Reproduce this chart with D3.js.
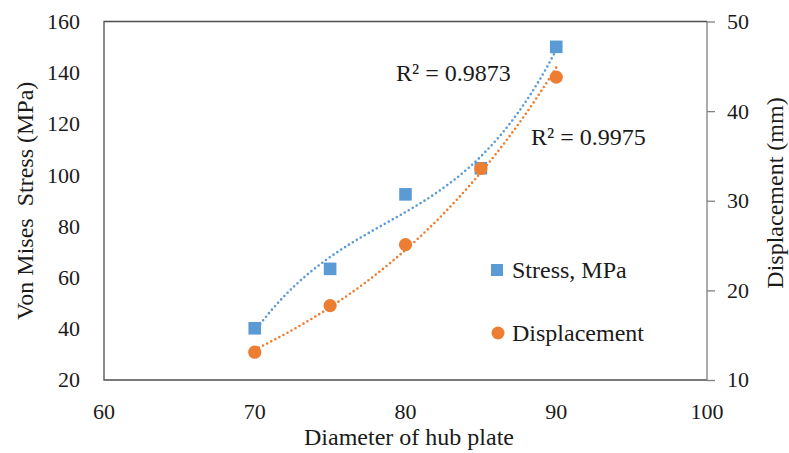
<!DOCTYPE html>
<html>
<head>
<meta charset="utf-8">
<script src="https://cdn.jsdelivr.net/npm/d3@7"></script>
<style>
  body { margin: 0; background: #fff; overflow: hidden; }
  svg { display: block; }
</style>
</head>
<body>
<div id="chart"></div>
<script>
// data
const diameters = [70, 75, 80, 85, 90];
const stress = [40.2, 63.4, 92.5, 102.7, 150.1];        // MPa, left axis
const displacement = [13.1, 18.3, 25.1, 33.6, 43.8];    // mm, right axis
const xTicks = [60, 70, 80, 90, 100];
const leftTicks = [20, 40, 60, 80, 100, 120, 140, 160];
const rightTicks = [10, 20, 30, 40, 50];
const seriesNames = ["Stress, MPa", "Displacement"];
const r2Labels = ["R\u00b2 = 0.9873", "R\u00b2 = 0.9975"];

const width = 789, height = 453;
const margin = {top: 21.5, bottom: 73, left: 104, right: 82};
const innerWidth = width - margin.left - margin.right;
const innerHeight = height - margin.top - margin.bottom;

const blue = "#5b9bd5", orange = "#ed7d31";
const serif = "Liberation Serif, Times New Roman, serif";

const svg = d3.select("#chart").append("svg")
    .attr("width", width)
    .attr("height", height)
    .attr("font-family", serif);

const g = svg.append("g")
    .attr("transform", `translate(${margin.left}, ${margin.top})`);

const xScale = d3.scaleLinear().domain([60, 100]).range([0, innerWidth]);
const yLeft = d3.scaleLinear().domain([20, 160]).range([innerHeight, 0]);
const yRight = d3.scaleLinear().domain([10, 50]).range([innerHeight, 0]);

// plot box (left, top, bottom)
g.append("path")
    .attr("d", `M${innerWidth},0H0V${innerHeight}H${innerWidth}`)
    .attr("fill", "none")
    .attr("stroke", "#4d4d4d")
    .attr("stroke-width", 1.3);

// right axis line and outward ticks
const rightAxis = g.append("g")
    .attr("transform", `translate(${innerWidth}, 0)`)
    .call(d3.axisRight(yRight).tickValues(rightTicks).tickSize(8).tickFormat(""));
rightAxis.select(".domain").attr("stroke", "#7f7f7f").attr("stroke-width", 1.3)
    .attr("d", `M0,0V${innerHeight}`);
rightAxis.selectAll(".tick line").attr("stroke", "#7f7f7f").attr("stroke-width", 1.3);
rightAxis.selectAll(".tick text").remove();

// tick labels
g.selectAll(".left-label")
    .data(leftTicks)
    .join("text")
    .attr("class", "left-label")
    .attr("x", -24)
    .attr("y", d => yLeft(d))
    .attr("dy", "0.34em")
    .attr("text-anchor", "end")
    .attr("font-size", 22)
    .attr("fill", "#1a1a1a")
    .text(d => d);

g.selectAll(".right-label")
    .data(rightTicks)
    .join("text")
    .attr("class", "right-label")
    .attr("x", innerWidth + 20)
    .attr("y", d => yRight(d))
    .attr("dy", "0.34em")
    .attr("text-anchor", "start")
    .attr("font-size", 22)
    .attr("fill", "#1a1a1a")
    .text(d => d);

g.selectAll(".bottom-label")
    .data(xTicks)
    .join("text")
    .attr("class", "bottom-label")
    .attr("x", d => xScale(d))
    .attr("y", innerHeight + 32)
    .attr("dy", "0.34em")
    .attr("text-anchor", "middle")
    .attr("font-size", 22)
    .attr("fill", "#1a1a1a")
    .text(d => d);

// least squares polynomial fit, x centred on the mean
const polyFit = (xs, ys, order) => {
    const xm = d3.mean(xs);
    const n = order + 1;
    const A = [];
    for (let i = 0; i < n; i++) {
        A.push([]);
        for (let j = 0; j < n; j++) A[i].push(d3.sum(xs, x => Math.pow(x - xm, i + j)));
        A[i].push(d3.sum(xs, (x, k) => ys[k] * Math.pow(x - xm, i)));
    }
    for (let c = 0; c < n; c++) {
        let p = c;
        for (let r = c + 1; r < n; r++) if (Math.abs(A[r][c]) > Math.abs(A[p][c])) p = r;
        [A[c], A[p]] = [A[p], A[c]];
        for (let r = 0; r < n; r++) {
            if (r === c) continue;
            const f = A[r][c] / A[c][c];
            for (let k = c; k <= n; k++) A[r][k] -= f * A[c][k];
        }
    }
    const coef = A.map((row, i) => row[n] / row[i]);
    return x => d3.sum(coef, (c, i) => c * Math.pow(x - xm, i));
};

// Stress: cubic trend; Displacement: exponential trend (linear fit on log)
const stressFit = polyFit(diameters, stress, 3);
const logFit = polyFit(diameters, displacement.map(Math.log), 1);
const dispFit = x => Math.exp(logFit(x));

const xs = d3.range(0, 101).map(i => diameters[0] + (diameters[diameters.length - 1] - diameters[0]) * i / 100);

// markers
g.selectAll(".stress-pt")
    .data(diameters)
    .join("rect")
    .attr("class", "stress-pt")
    .attr("x", d => xScale(d) - 6.3)
    .attr("y", (d, i) => yLeft(stress[i]) - 6.3)
    .attr("width", 12.6)
    .attr("height", 12.6)
    .attr("fill", blue);

g.selectAll(".disp-pt")
    .data(diameters)
    .join("circle")
    .attr("class", "disp-pt")
    .attr("cx", d => xScale(d))
    .attr("cy", (d, i) => yRight(displacement[i]))
    .attr("r", 6.6)
    .attr("fill", orange);

// dotted trendlines
const stressLine = d3.line().x(d => xScale(d)).y(d => yLeft(stressFit(d)));
const dispLine = d3.line().x(d => xScale(d)).y(d => yRight(dispFit(d)));

[[stressLine, blue], [dispLine, orange]].forEach(([line, color]) => {
    g.append("path")
        .attr("d", line(xs))
        .attr("fill", "none")
        .attr("stroke", color)
        .attr("stroke-width", 2.6)
        .attr("stroke-linecap", "round")
        .attr("stroke-dasharray", "0,4.6");
});

const addText = (txt, x, y, anchor, transform) => {
    const t = svg.append("text")
        .text(txt)
        .attr("text-anchor", anchor)
        .attr("dy", "0.34em")
        .attr("fill", "#1a1a1a")
        .attr("font-size", 24);
    if (transform) t.attr("transform", transform);
    else t.attr("x", x).attr("y", y);
    return t;
};

// R squared labels
addText(r2Labels[0], 396, 73, "start");
addText(r2Labels[1], 531, 137, "start");

// legend
svg.append("rect")
    .attr("x", 491).attr("y", 264).attr("width", 12).attr("height", 12)
    .attr("fill", blue);
addText(seriesNames[0], 512, 270, "start");
svg.append("circle")
    .attr("cx", 498).attr("cy", 333).attr("r", 6.5)
    .attr("fill", orange);
addText(seriesNames[1], 512, 333, "start");

// axis titles
addText("Von Mises\u00a0 Stress (MPa)", 0, 0, "middle",
    `translate(25, ${margin.top + innerHeight / 2}) rotate(-90)`);
addText("Displacement (mm)", 0, 0, "middle", "translate(775, 193) rotate(-90)");
addText("Diameter of hub plate", 409, 437, "middle");
</script>
</body>
</html>
